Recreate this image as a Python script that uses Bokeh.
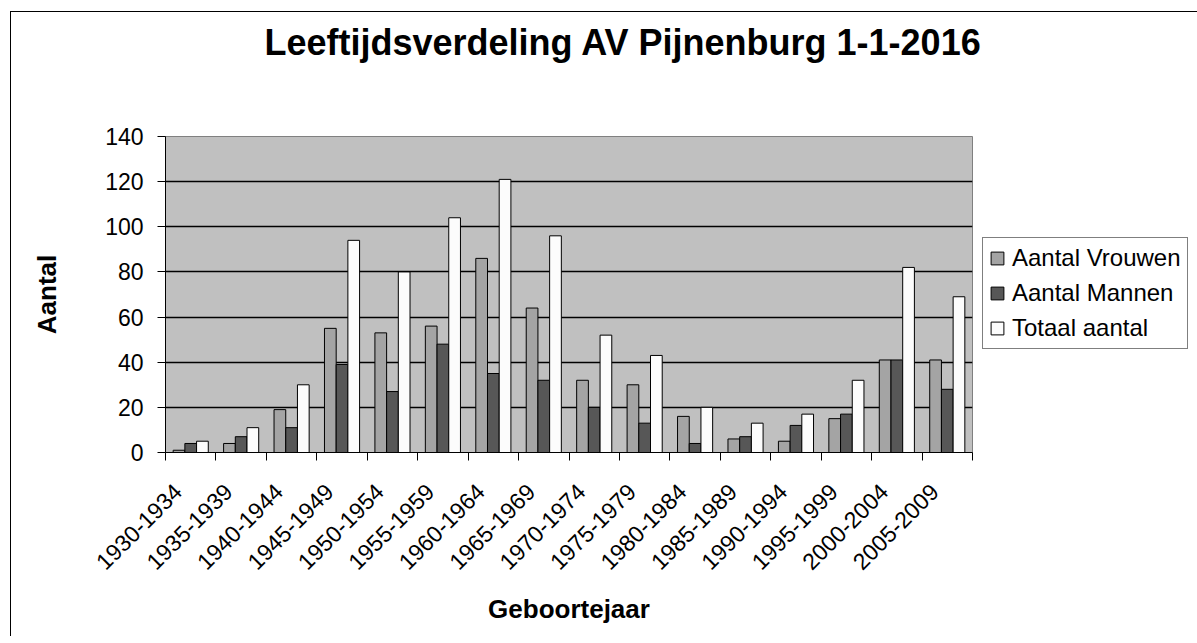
import numpy as np
from math import pi
from bokeh.plotting import figure
from bokeh.models import (ColumnDataSource, Range1d, LinearAxis, FixedTicker, Grid,
                          Legend, LegendItem, Title)
from bokeh.transform import dodge
from bokeh.embed import file_html
from bokeh.resources import INLINE

categories = ["1930-1934", "1935-1939", "1940-1944", "1945-1949", "1950-1954",
              "1955-1959", "1960-1964", "1965-1969", "1970-1974", "1975-1979",
              "1980-1984", "1985-1989", "1990-1994", "1995-1999", "2000-2004",
              "2005-2009"]
vrouwen = [1, 4, 19, 55, 53, 56, 86, 64, 32, 30, 16, 6, 5, 15, 41, 41]
mannen = [4, 7, 11, 39, 27, 48, 35, 32, 20, 13, 4, 7, 12, 17, 41, 28]
totaal = [5, 11, 30, 94, 80, 104, 121, 96, 52, 43, 20, 13, 17, 32, 82, 69]
y_ticks = [0, 20, 40, 60, 80, 100, 120, 140]
series_names = ["Aantal Vrouwen", "Aantal Mannen", "Totaal aantal"]
title_text = "Leeftijdsverdeling AV Pijnenburg 1-1-2016"
x_title = "Geboortejaar"
y_title = "Aantal"

FONT = "Liberation Sans"
n = len(categories)
centers = [i + 0.5 for i in range(n)]
label_pos = [c - 0.26 for c in centers]
src = ColumnDataSource(dict(x=centers, vrouwen=vrouwen, mannen=mannen, totaal=totaal))

p = figure(x_range=Range1d(0, n), y_range=Range1d(0, y_ticks[-1]),
           frame_width=807, frame_height=316,
           min_border_left=154, min_border_right=222,
           min_border_top=124, min_border_bottom=184,
           x_axis_type=None, y_axis_type=None,
           output_backend="svg", toolbar_location=None,
           background_fill_color="#c0c0c0", border_fill_color="white",
           outline_line_color="#808080", outline_line_width=1)
p.styles = {"border-left": "1px solid black", "border-top": "1px solid black",
            "margin-left": "10px", "margin-top": "11px"}
p.title.text = ""

# spacer between frame and title (closest to the frame), then the title itself
p.add_layout(Title(text=" ", standoff=57, text_font_size="13px"), "above")
p.add_layout(Title(text=title_text, align="left", offset=99, standoff=0,
                   text_font=FONT, text_font_style="bold", text_font_size="36px",
                   text_color="black"), "above")

# y axis
yaxis = LinearAxis(ticker=FixedTicker(ticks=y_ticks, minor_ticks=[]),
                   axis_label=y_title, axis_label_text_color="black",
                   axis_label_text_font=FONT, axis_label_text_font_style="bold",
                   axis_label_text_font_size="26px", axis_label_standoff=40,
                   major_label_text_font=FONT, major_label_text_font_size="23px",
                   major_label_text_color="black", major_label_standoff=14,
                   major_tick_in=0, major_tick_out=8, major_tick_line_color="black",
                   axis_line_color="black", minor_tick_line_color=None)
p.add_layout(yaxis, "left")

# x axis: tick marks at category boundaries, labels near centres
xaxis = LinearAxis(ticker=FixedTicker(ticks=label_pos, minor_ticks=list(range(n + 1))),
                   major_label_overrides={c: lab for c, lab in zip(label_pos, categories)},
                   axis_label=x_title, axis_label_text_color="black",
                   axis_label_text_font=FONT, axis_label_text_font_style="bold",
                   axis_label_text_font_size="26px", axis_label_standoff=14,
                   major_label_text_font=FONT, major_label_text_font_size="23px",
                   major_label_text_color="black", major_label_standoff=27,
                   major_label_orientation=pi / 4,
                   major_tick_line_color=None,
                   minor_tick_in=0, minor_tick_out=8, minor_tick_line_color="black",
                   axis_line_color="black")
p.add_layout(xaxis, "below")

p.add_layout(Grid(dimension=1, ticker=FixedTicker(ticks=y_ticks[1:-1]),
                  grid_line_color="black", grid_line_width=1.5))

w = 0.232
colors = ["#a4a4a4", "#575757", "#fcfcfc"]
fields = ["vrouwen", "mannen", "totaal"]
offsets = [-w, 0.0, w]
rends = []
for f, c, off in zip(fields, colors, offsets):
    r = p.vbar(x=dodge("x", off), top=f, width=w, source=src,
               fill_color=c, line_color="black", line_width=1)
    rends.append(r)

legend = Legend(items=[LegendItem(label=nm, renderers=[r]) for nm, r in zip(series_names, rends)],
                location=(10, 103),
                label_text_font=FONT, label_text_font_size="24px",
                label_text_color="black",
                label_height=28, label_standoff=7,
                glyph_width=16, glyph_height=16,
                spacing=7, padding=6, margin=0,
                border_line_color="black", border_line_width=1,
                background_fill_color="white", background_fill_alpha=1.0)
p.add_layout(legend, "right")

open("out.html", "w").write(file_html(p, INLINE))
